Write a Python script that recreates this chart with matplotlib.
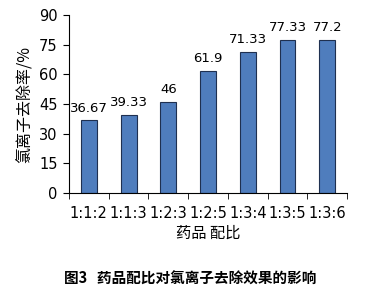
import matplotlib
matplotlib.use("Agg")
import matplotlib.pyplot as plt
import numpy as np

plt.rcParams['font.family'] = ['Noto Sans CJK SC', 'DejaVu Sans']

# data
ratios = ["1:1:2", "1:1:3", "1:2:3", "1:2:5", "1:3:4", "1:3:5", "1:3:6"]
removal = [36.67, 39.33, 46, 61.9, 71.33, 77.33, 77.2]
labels = ["36.67", "39.33", "46", "61.9", "71.33", "77.33", "77.2"]
yticks = [0, 15, 30, 45, 60, 75, 90]

fig = plt.figure(figsize=(3.81, 2.98), dpi=100)
ax = fig.add_axes([0.181, 0.352, 0.730, 0.598])

x = np.arange(len(ratios))
ax.bar(x, removal, 0.4, color="#4f7dbd", edgecolor="#1f3050", linewidth=0.8)
for xi, v, t in zip(x, removal, labels):
    ax.text(xi, v + 3, t, ha="center", va="bottom", fontsize=9.5,
            family=["DejaVu Sans"])

ax.set_xlim(-0.5, len(ratios) - 0.5)
ax.set_ylim(0, 90)
ax.set_yticks(yticks)
ax.set_yticklabels([str(t) for t in yticks], fontsize=10.5, family=["DejaVu Sans"])
ax.set_xticks(x)
ax.set_xticklabels(ratios, fontsize=10.5, family=["DejaVu Sans"])
ax.tick_params(axis="x", length=0, pad=9)
ax.set_xticks(np.arange(-0.5, len(ratios)), minor=True)
ax.tick_params(axis="x", which="minor", length=4, direction="out")
ax.tick_params(axis="y", length=4, direction="out", pad=4)
for s in ("top", "right"):
    ax.spines[s].set_visible(False)
ax.spines["left"].set_linewidth(0.8)
ax.spines["bottom"].set_linewidth(0.8)

ax.set_ylabel("氯离子去除率/%", fontsize=11.5, labelpad=4)
ax.set_xlabel("药品 配比", fontsize=11, labelpad=3)

fig.text(0.5, 0.065, "图3   药品配比对氯离子去除效果的影响", ha="center",
         va="center", fontsize=10.5, fontweight="bold")

fig.savefig("out.png", dpi=100)
